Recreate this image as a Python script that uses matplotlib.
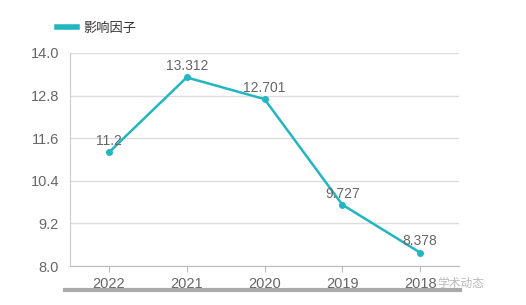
import matplotlib
matplotlib.use("Agg")
import matplotlib.pyplot as plt

plt.rcParams['font.family'] = ['Liberation Sans', 'Noto Sans CJK SC', 'DejaVu Sans']

years = ["2022", "2021", "2020", "2019", "2018"]
impact = [11.2, 13.312, 12.701, 9.727, 8.378]
labels = ["11.2", "13.312", "12.701", "9.727", "8.378"]
yticks = [8.0, 9.2, 10.4, 11.6, 12.8, 14.0]

color = "#22b6c0"
grey = "#666666"

fig = plt.figure(figsize=(5.26, 3.05), dpi=100)
ax = fig.add_axes([70/526, 1-266/305, 389/526, 213/305])

x = list(range(len(years)))
ax.plot(x, impact, color=color, lw=1.8, marker='o', ms=4, label="影响因子", zorder=3)
for xi, v, lab in zip(x, impact, labels):
    ax.annotate(lab, (xi, v), xytext=(0, 3), textcoords='offset points',
                ha='center', va='bottom', fontsize=10, color=grey, zorder=4)

ax.set_xlim(-0.5, 4.5)
ax.set_ylim(8.0, 14.0)
ax.set_yticks(yticks)
ax.set_yticklabels([f"{t:.1f}" for t in yticks])
ax.set_xticks(x)
ax.set_xticklabels(years)
ax.grid(axis='y', color='#dddddd', lw=1)
ax.set_axisbelow(True)
for s in ['top', 'right']:
    ax.spines[s].set_visible(False)
ax.spines['left'].set_color('#cccccc')
ax.spines['bottom'].set_color('#bbbbbb')
ax.tick_params(axis='y', length=0, pad=8, labelsize=10.5, labelcolor=grey)
ax.tick_params(axis='x', length=4, color='#bbbbbb', pad=4, labelsize=10.5, labelcolor=grey)

leg = fig.legend(loc='upper left', bbox_to_anchor=(45/526, 1-10/305), frameon=False,
                 prop={'family': ['Noto Sans CJK SC'], 'size': 9.5},
                 handlelength=1.5, handletextpad=0.5, labelcolor='#333333')
for h in leg.legend_handles:
    h.set_marker('')
    h.set_linewidth(4)

# bottom grey bar and watermark
fig.add_artist(plt.Line2D([65/526, 460/526], [1-290/305, 1-290/305], color='#aaaaaa', lw=3,
                          transform=fig.transFigure))
fig.text(437/526, 1-283/305, "学术动态", fontsize=8.5, color='#aaaaaa', ha='left', va='center',
         family=['Noto Sans CJK SC'], alpha=0.8)

fig.savefig("out.png", dpi=100)
